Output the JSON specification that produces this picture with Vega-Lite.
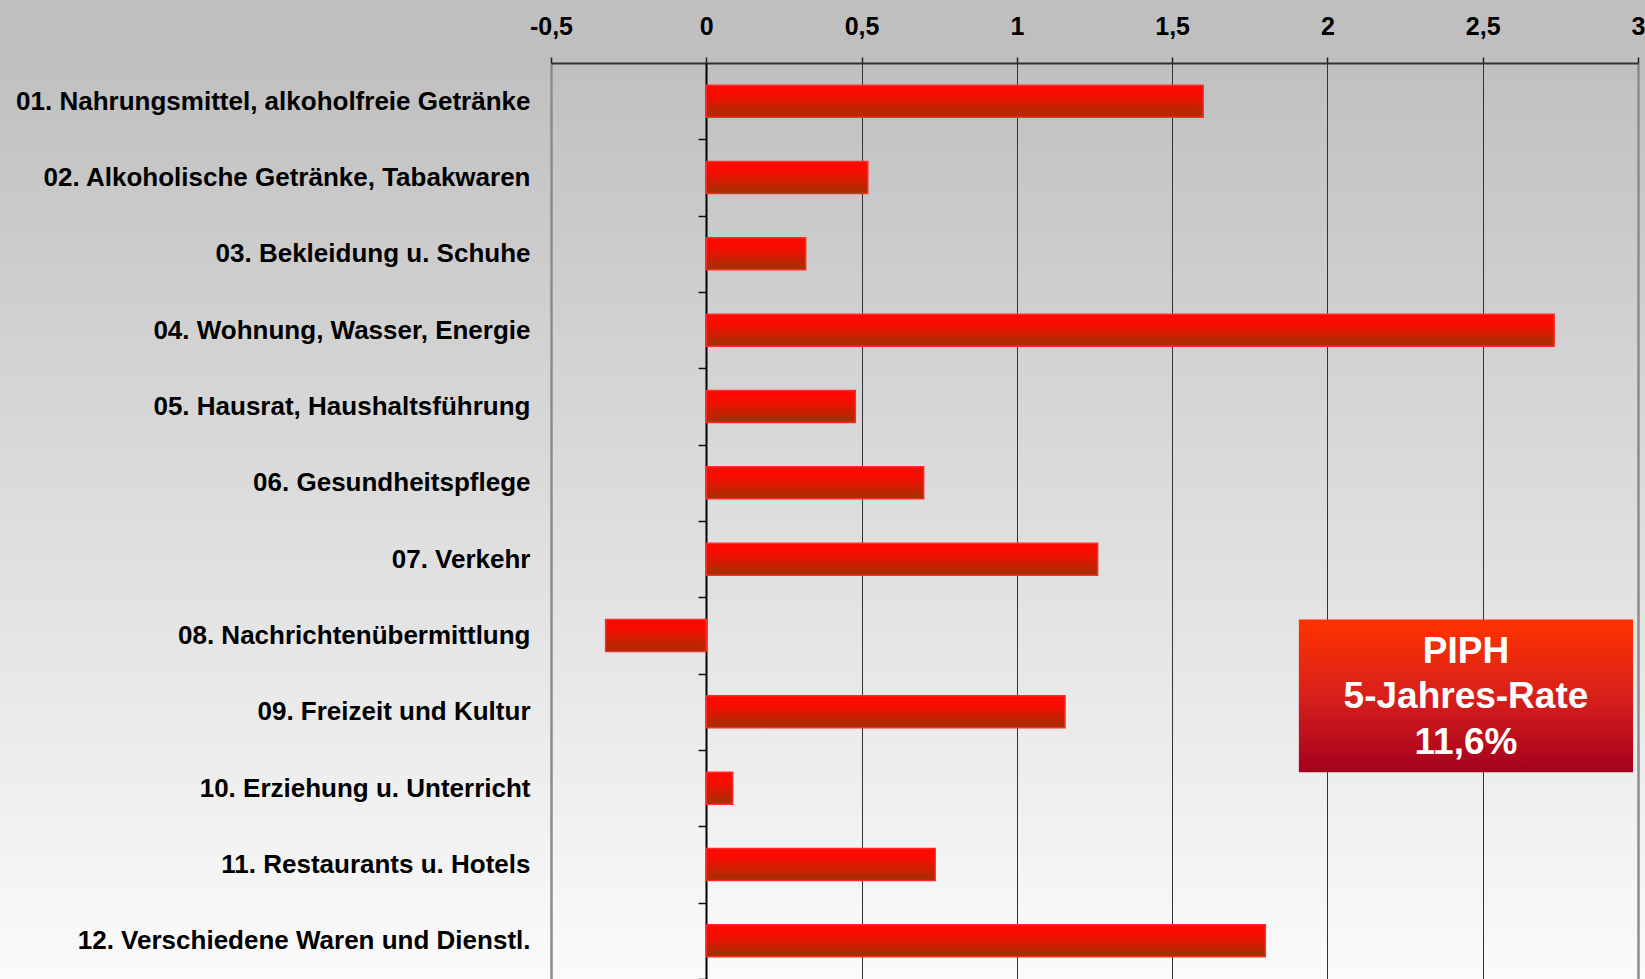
{
  "$schema": "https://vega.github.io/schema/vega-lite/v6.json",
  "width": 1645,
  "height": 916,
  "autosize": "none",
  "padding": {"top": 63, "left": 0, "right": 0, "bottom": 0},
  "background": "#bfbfbf",
  "config": {
    "view": {
      "stroke": null,
      "fill": {"gradient": "linear", "x1": 0, "y1": 0, "x2": 0, "y2": 1,
        "stops": [{"offset": 0, "color": "#c0c0c0"}, {"offset": 1, "color": "#fbfbfb"}]}
    },
    "font": "Liberation Sans"
  },
  "layer": [
    {
      "data": {"values": [
        {"cat": "01. Nahrungsmittel, alkoholfreie Getränke", "v": 1.6},
        {"cat": "02. Alkoholische Getränke, Tabakwaren", "v": 0.52},
        {"cat": "03. Bekleidung u. Schuhe", "v": 0.32},
        {"cat": "04. Wohnung, Wasser, Energie", "v": 2.73},
        {"cat": "05. Hausrat, Haushaltsführung", "v": 0.48},
        {"cat": "06. Gesundheitspflege", "v": 0.70},
        {"cat": "07. Verkehr", "v": 1.26},
        {"cat": "08. Nachrichtenübermittlung", "v": -0.324},
        {"cat": "09. Freizeit und Kultur", "v": 1.155},
        {"cat": "10. Erziehung u. Unterricht", "v": 0.085},
        {"cat": "11. Restaurants u. Hotels", "v": 0.737},
        {"cat": "12. Verschiedene Waren und Dienstl.", "v": 1.80}
      ]},
      "mark": {
        "type": "bar",
        "fill": {"gradient": "linear", "x1": 0, "y1": 0, "x2": 0, "y2": 1,
          "stops": [{"offset": 0, "color": "#ff0800"}, {"offset": 0.3, "color": "#f80c00"}, {"offset": 1, "color": "#a03200"}]},
        "stroke": "#ff2a2a",
        "strokeWidth": 1.5
      },
      "encoding": {
        "y": {
          "field": "cat", "type": "nominal", "sort": null,
          "scale": {"paddingInner": 0.58, "paddingOuter": 0.29},
          "axis": {
            "orient": "left", "offset": -706, "title": null,
            "domainColor": "#000", "domainWidth": 2,
            "ticks": true, "tickOffset": 38.2, "tickSize": 8, "tickColor": "#111", "tickWidth": 1.5,
            "labelOffset": -38.2,
            "labelFont": "Liberation Sans", "labelFontWeight": "bold", "labelFontSize": 26,
            "labelColor": "#000", "labelPadding": 168, "labelLimit": 0, "grid": false
          }
        },
        "x": {
          "field": "v", "type": "quantitative",
          "scale": {"domain": [-2.274, 3.0225], "zero": false, "nice": false},
          "axis": {
            "orient": "top", "title": null,
            "values": [-0.5, 0, 0.5, 1, 1.5, 2, 2.5, 3],
            "labelExpr": "replace(toString(datum.value), '.', ',')",
            "labelFont": "Liberation Sans", "labelFontWeight": "bold", "labelFontSize": 25,
            "labelColor": "#000", "labelPadding": 23, "labelBaseline": "alphabetic",
            "labelFlush": false, "labelOverlap": false,
            "tickSize": 6, "tickColor": "#222", "tickWidth": 1.5,
            "domainColor": "#333", "domainWidth": 2, "domainDash": [0, 551, 1087, 3000],
            "grid": true,
            "gridColor": {"condition": {"test": "datum.value == -0.5 || datum.value == 3", "value": "#8c8c8c"}, "value": "#333"},
            "gridWidth": {"condition": {"test": "datum.value == -0.5 || datum.value == 3", "value": 2.5}, "value": 1}
          }
        }
      }
    },
    {
      "data": {"values": [
        {"x1": 1.908, "x2": 2.984, "cat": "08. Nachrichtenübermittlung", "cat2": "10. Erziehung u. Unterricht"}
      ]},
      "mark": {
        "type": "rect",
        "fill": {"gradient": "linear", "x1": 0, "y1": 0, "x2": 0, "y2": 1,
          "stops": [{"offset": 0, "color": "#ff3300"}, {"offset": 0.5, "color": "#d8201a"}, {"offset": 1, "color": "#a5001f"}]}
      },
      "encoding": {
        "x": {"field": "x1", "type": "quantitative"},
        "x2": {"field": "x2"},
        "y": {"field": "cat", "type": "nominal", "sort": null, "bandPosition": 0},
        "y2": {"field": "cat2", "bandPosition": 0}
      }
    },
    {
      "data": {"values": [
        {"xc": 2.446, "cat": "08. Nachrichtenübermittlung", "label": "PIPH\n5-Jahres-Rate\n11,6%"}
      ]},
      "mark": {
        "type": "text", "color": "#ffffff", "font": "Liberation Sans", "fontWeight": "bold",
        "fontSize": 37, "lineHeight": 45.5, "lineBreak": "\n", "align": "center", "baseline": "middle"
      },
      "encoding": {
        "x": {"field": "xc", "type": "quantitative"},
        "y": {"field": "cat", "type": "nominal", "sort": null, "bandPosition": 1},
        "text": {"field": "label", "type": "nominal"}
      }
    }
  ]
}
